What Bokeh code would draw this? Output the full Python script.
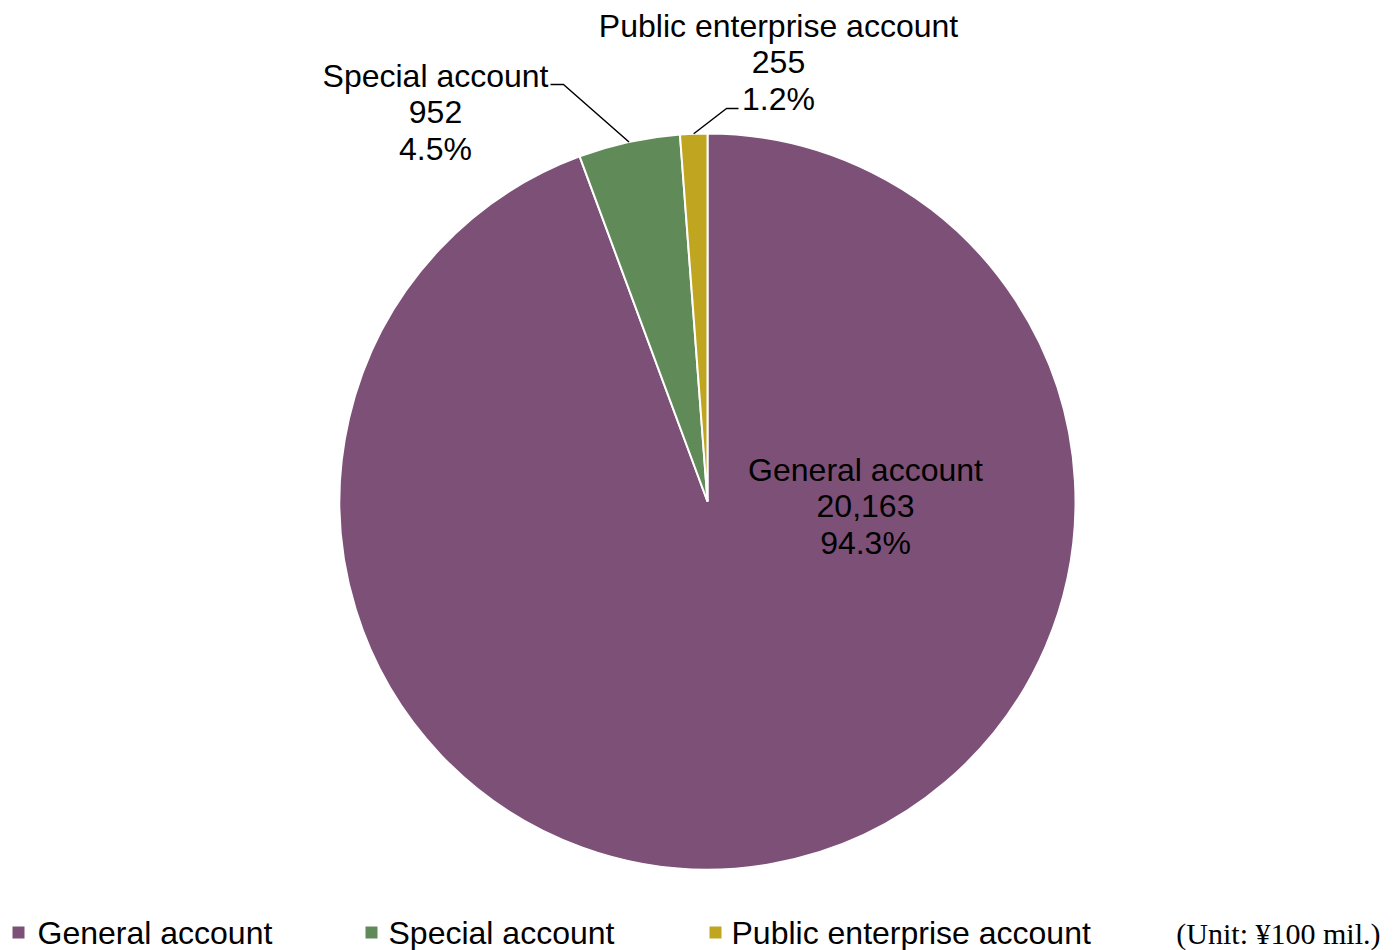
import math
from bokeh.plotting import figure
from bokeh.models import Range1d, ColumnDataSource
from bokeh.core.properties import value
from bokeh.embed import file_html
from bokeh.resources import INLINE

# ---- data ----
categories = ["General account", "Special account", "Public enterprise account"]
amounts = [20163, 952, 255]
percents = ["94.3%", "4.5%", "1.2%"]
amount_labels = ["20,163", "952", "255"]
colors = ["#7D5078", "#608A58", "#C0A521"]
unit_note = "(Unit: ¥100 mil.)"

W, H = 1398, 950
CX, CY, R = 707, 501, 368  # pixel layout of the pie


def Y(py):
    return H - py


p = figure(width=W, height=H, output_backend="svg", toolbar_location=None,
           x_range=Range1d(0, W), y_range=Range1d(0, H), min_border=0)
p.axis.visible = False
p.grid.visible = False
p.outline_line_color = None
p.background_fill_color = "white"
p.border_fill_color = "white"

total = sum(amounts)
starts, ends, mids = [], [], []
cum = 0.0
for a in amounts:
    s = math.pi / 2 - 2 * math.pi * cum / total
    cum += a
    e = math.pi / 2 - 2 * math.pi * cum / total
    starts.append(s)
    ends.append(e)
    mids.append((s + e) / 2)

src = ColumnDataSource(dict(start=starts, end=ends, color=colors,
                            x=[CX] * 3, y=[Y(CY)] * 3))
p.wedge(x="x", y="y", radius=R, start_angle="start", end_angle="end",
        direction="clock", fill_color="color", line_color="white",
        line_width=2, source=src)

FONT = value("Liberation Sans")
labels = [f"{c}\n{a}\n{pc}" for c, a, pc in zip(categories, amount_labels, percents)]
label_pos = [(865, 506), (435, 112), (778, 62)]
p.text(x=[lp[0] for lp in label_pos], y=[Y(lp[1]) for lp in label_pos],
       text=labels, text_font=FONT, text_font_size="32px",
       text_align="center", text_baseline="middle", text_color="black",
       text_line_height=1.02)

# leader lines (start on the slice edge at its mid-angle)
def edge(i):
    return CX + R * math.cos(mids[i]), CY - R * math.sin(mids[i])

ex, ey = edge(1)
p.line([ex, 563, 550], [Y(ey), Y(84), Y(84)], line_color="black", line_width=1.5)
ex, ey = edge(2)
p.line([ex, 726, 738], [Y(ey), Y(108), Y(108)], line_color="black", line_width=1.5)

# legend
sq_x = [18, 371, 715]
txt_x = [37, 388, 731]
LY = 932
p.rect(x=sq_x, y=[Y(LY)] * 3, width=12, height=12, fill_color=colors,
       line_color=None)
p.text(x=txt_x, y=[Y(LY)] * 3, text=categories, text_font=FONT,
       text_font_size="32px", text_align="left", text_baseline="middle",
       text_color="black")
p.text(x=[1380], y=[Y(LY + 1)], text=[unit_note],
       text_font=value("Liberation Serif"), text_font_size="30px",
       text_align="right", text_baseline="middle", text_color="black")

open("out.html", "w").write(file_html(p, INLINE))
